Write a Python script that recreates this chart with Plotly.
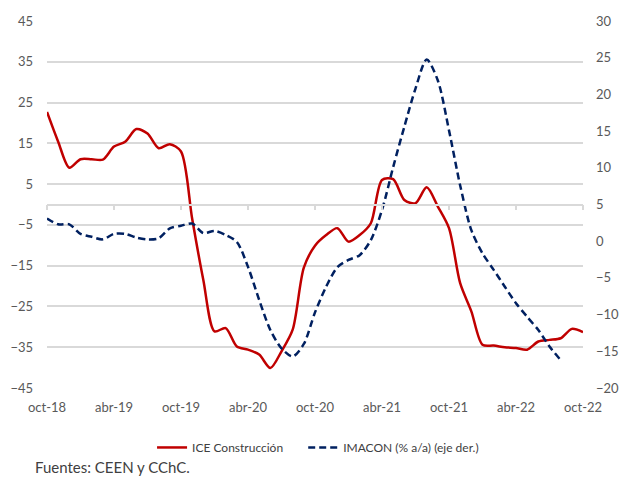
import plotly.graph_objects as go

# Monthly labels oct-18 .. oct-22
month_names = ["ene", "feb", "mar", "abr", "may", "jun", "jul", "ago", "sep", "oct", "nov", "dic"]
months = []
y, m = 2018, 10
for _ in range(49):
    months.append(f"{month_names[m-1]}-{str(y)[2:]}")
    m += 1
    if m > 12:
        m = 1
        y += 1

ice_construccion = [22.7, 15.4, 9.0, 11.1, 11.1, 11.0, 14.2, 15.4, 18.5, 17.4, 13.8, 14.8,
                    13.0, -3.5, -18.5, -31.1, -30.3, -34.8, -35.6, -36.8, -40.1, -36.0, -30.7, -15.5,
                    -10.1, -7.5, -5.8, -9.1, -7.5, -4.6, 6.0, 6.2, 1.1, 0.3, 4.2, -0.5,
                    -5.8, -19.3, -26.2, -34.4, -34.6, -35.0, -35.2, -35.6, -33.6, -33.2, -32.8, -30.5,
                    -31.3]

imacon = [3.1, 2.3, 2.3, 1.0, 0.6, 0.25, 1.0, 1.0, 0.5, 0.25, 0.4, 1.75,
          2.1, 2.4, 1.1, 1.4, 0.85, -0.1, -3.5, -8.0, -12.1, -14.6, -15.7, -14.0,
          -9.7, -6.2, -3.55, -2.55, -1.9, 0.16, 4.25, 10.1, 15.6, 20.8, 24.75, 21.9,
          15.1, 7.6, 1.5, -1.65, -3.9, -6.2, -8.45, -10.3, -12.1, -14.35, -16.2]

tick_idx = list(range(0, 49, 6))
tick_labels = [months[i] for i in tick_idx]

x_ice = list(range(len(ice_construccion)))
x_ima = list(range(len(imacon)))

FONT = "Lato"
TICK_COLOR = "#595959"
GRID = "#D9D9D9"

fig = go.Figure()
fig.add_trace(go.Scatter(
    x=x_ice, y=ice_construccion, name="ICE Construcción", mode="lines",
    line=dict(color="#C00000", width=2.5, shape="spline", smoothing=0.8),
    yaxis="y", xaxis="x", legend="legend"))
fig.add_trace(go.Scatter(
    x=x_ima, y=imacon, name="IMACON (% a/a) (eje der.)", mode="lines",
    line=dict(color="#002060", width=2.5, dash="7px,4px", shape="spline", smoothing=0.8),
    yaxis="y2", xaxis="x", legend="legend2"))
# invisible helper trace so the zero-crossing axis is drawn
fig.add_trace(go.Scatter(
    x=x_ice, y=ice_construccion, mode="lines", line=dict(width=0),
    opacity=0, showlegend=False, hoverinfo="skip", xaxis="x2", yaxis="y"))

leg_common = dict(orientation="h", xanchor="left", y=-0.162, yanchor="middle",
                  font=dict(size=12, color="#404040"), bgcolor="rgba(0,0,0,0)")

fig.update_layout(
    width=623, height=501,
    margin=dict(l=47, r=40, t=21, b=113, autoexpand=False),
    paper_bgcolor="white", plot_bgcolor="white",
    font=dict(family=FONT, color=TICK_COLOR, size=13),
    showlegend=True,
    legend=dict(x=0.196, **leg_common),
    legend2=dict(x=0.478, **leg_common),
    xaxis=dict(range=[0, 48], tickmode="array", tickvals=tick_idx, ticktext=tick_labels,
               showgrid=False, zeroline=False, showline=False, ticks="",
               ticklabelstandoff=10, tickfont=dict(size=13, color=TICK_COLOR)),
    xaxis2=dict(range=[0, 48], overlaying="x", anchor="free", position=0.5,
                tickmode="array", tickvals=tick_idx, showticklabels=False,
                showgrid=False, zeroline=False, showline=True, linecolor=GRID, linewidth=1.5,
                ticks="outside", ticklen=5, tickcolor=GRID, tickwidth=1.5),
    yaxis=dict(range=[-45, 45], tick0=45, dtick=10, showgrid=True, gridcolor=GRID,
               gridwidth=1.5, zeroline=False, showline=False, ticks="",
               ticklabelstandoff=13, tickfont=dict(size=13, color=TICK_COLOR)),
    yaxis2=dict(range=[-20, 30], tick0=30, dtick=5, overlaying="y", side="right",
                showgrid=False, zeroline=False, showline=False, ticks="",
                ticklabelstandoff=12, tickfont=dict(size=13, color=TICK_COLOR)),
    annotations=[dict(text="Fuentes: CEEN y CChC.", xref="paper", yref="paper",
                      x=-0.026, y=-0.214, xanchor="left", yanchor="middle",
                      showarrow=False, font=dict(size=15, color="#404040"))],
)

fig.write_html(
    "out.html",
    config={"displayModeBar": False},
    post_script="document.body.style.margin='0';document.body.style.overflow='hidden';",
)
